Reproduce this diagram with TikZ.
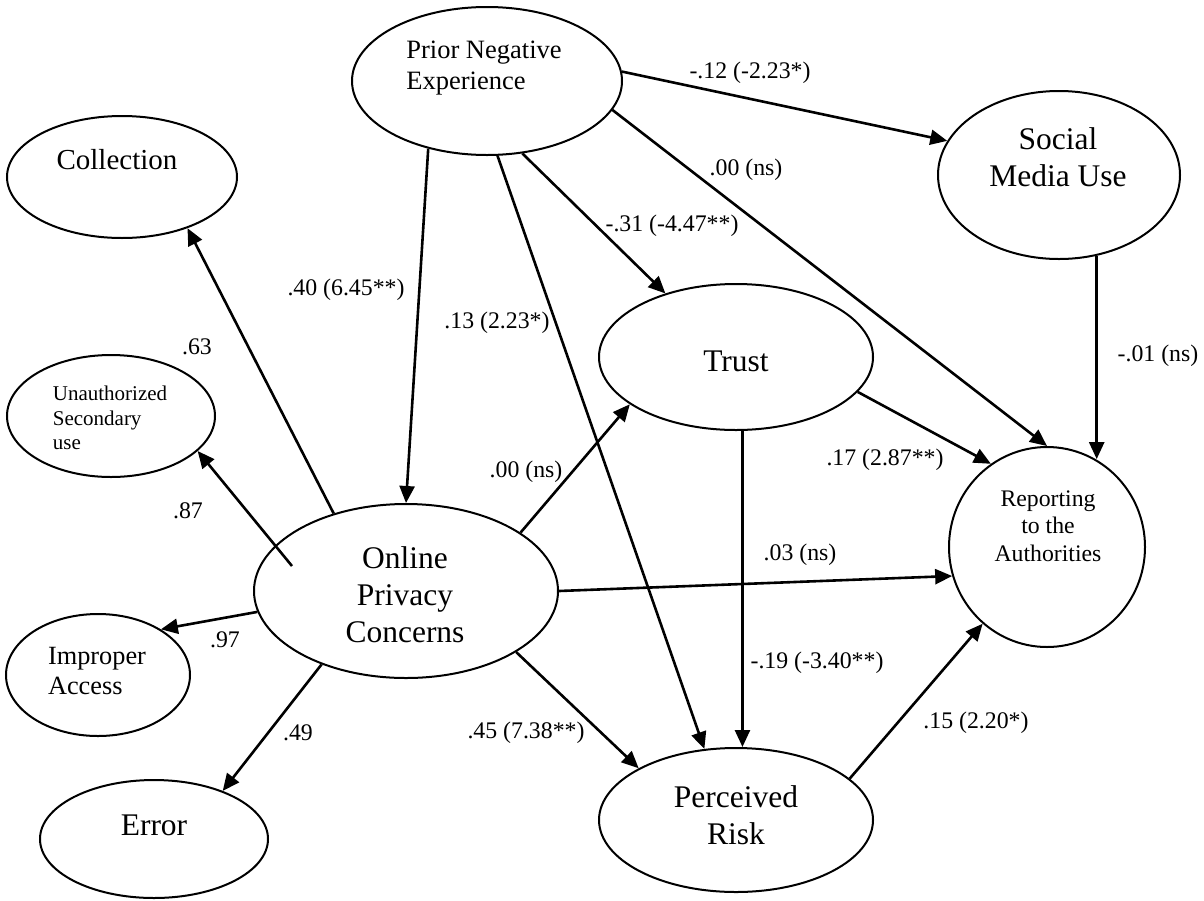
\documentclass[tikz,border=0pt]{standalone}
\usepackage{fontspec}
\setmainfont{Liberation Serif}
\usetikzlibrary{arrows.meta,shapes.geometric,calc}

\tikzset{
  lat/.style={draw, ellipse, line width=2pt, inner sep=0pt},
  arr/.style={-{Triangle[length=17pt,width=15pt]}, line width=2.6pt},
  coef/.style={font=\fontsize{23.8}{28}\selectfont, inner sep=0pt},
  big/.style={font=\fontsize{31.5}{37}\selectfont, align=center, inner sep=0pt},
}

\begin{document}
\begin{tikzpicture}[x=1pt,y=-1pt]
                \useasboundingbox (0,0) rectangle (1204,900);

                \node[lat, minimum width=270pt, minimum height=148pt] (prior) at (487,81) {};
                \node[font=\fontsize{26.5}{31}\selectfont, align=left, inner sep=0pt] (prior-txt) at (484,68) {Prior Negative\\Experience};
                \node[lat, minimum width=242pt, minimum height=168pt] (social) at (1059,175) {};
                \node[big] (social-txt) at (1058,157) {Social\\Media Use};
                \node[lat, minimum width=230pt, minimum height=122pt] (coll) at (122,177) {};
                \node[font=\fontsize{29}{34}\selectfont, inner sep=0pt] (coll-txt) at (117,160) {Collection};
                \node[lat, minimum width=208pt, minimum height=122pt] (unauth) at (111,416) {};
                \node[font=\fontsize{21}{24.5}\selectfont, align=left, inner sep=0pt] (unauth-txt) at (110,418) {Unauthorized\\Secondary\\use};
                \node[lat, minimum width=184pt, minimum height=122pt] (improper) at (98,675) {};
                \node[font=\fontsize{26.3}{30}\selectfont, align=left, inner sep=0pt] (improper-txt) at (97,671) {Improper\\Access};
                \node[lat, minimum width=228pt, minimum height=118pt] (error) at (154,839) {};
                \node[big] (error-txt) at (154,825) {Error};
                \node[lat, minimum width=304pt, minimum height=174pt] (opc) at (406,591) {};
                \node[big] (opc-txt) at (405,595) {Online\\Privacy\\Concerns};
                \node[lat, minimum width=274pt, minimum height=146pt] (trust) at (736,357) {};
                \node[big] (trust-txt) at (736,361) {Trust};
                \node[lat, minimum width=274pt, minimum height=144pt] (risk) at (736,820) {};
                \node[big] (risk-txt) at (736,815) {Perceived\\Risk};
                \node[lat, minimum width=196pt, minimum height=200pt] (report) at (1047,547) {};
                \node[font=\fontsize{23.75}{27.5}\selectfont, align=center, inner sep=0pt] (report-txt) at (1048,526) {Reporting\\to the\\Authorities};

                \draw[arr] (prior.4) -- (social.163);
                \draw[arr] (prior.-13) -- (report.90);
                \draw[arr] (prior.-131) -- (opc.90);
                \draw[arr] (prior.-82) -- (risk.114);
                \draw[arr] (prior.-64) -- (trust.138);
                \draw[arr] (social.-65) -- (social.-65 |- report.61);
                \draw[arr] (trust.-16) -- (report.124);
                \draw[arr] (trust.-85) -- (trust.-85 |- risk.north);
                \draw[arr] (opc.27) -- (trust.204);
                \draw[arr] (opc.0) -- (report.197);
                \draw[arr] (opc.-29) -- (risk.152);
                \draw[arr] (risk.20) -- (report.230);
                \draw[arr] (opc.133) -- (coll.-38);
                \draw[arr] ($(opc)+(-114,-25)$) -- (unauth.-22);
                \draw[arr] (opc.188) -- (improper.36);
                \draw[arr] (opc.221) -- (error.35);

                \node[coef] (c-ps) at (750,73) {-.12 (-2.23*)};
                \node[coef] (c-pr) at (746,170) {.00 (ns)};
                \node[coef] (c-po) at (346,290) {.40 (6.45**)};
                \node[coef] (c-pk) at (497,323) {.13 (2.23*)};
                \node[coef] (c-pt) at (672,226) {-.31 (-4.47**)};
                \node[coef] (c-sr) at (1158,356) {-.01 (ns)};
                \node[coef] (c-tr) at (885,460) {.17 (2.87**)};
                \node[coef] (c-ot) at (526,472) {.00 (ns)};
                \node[coef] (c-or) at (800,555) {.03 (ns)};
                \node[coef] (c-tk) at (817,663) {-.19 (-3.40**)};
                \node[coef] (c-ok) at (526,733) {.45 (7.38**)};
                \node[coef] (c-kr) at (976,723) {.15 (2.20*)};
                \node[coef] (c-oc) at (197,347) {.63};
                \node[coef] (c-ou) at (188,511) {.87};
                \node[coef] (c-oi) at (225,640) {.97};
                \node[coef] (c-oe) at (298,733) {.49};
\end{tikzpicture}
\end{document}
